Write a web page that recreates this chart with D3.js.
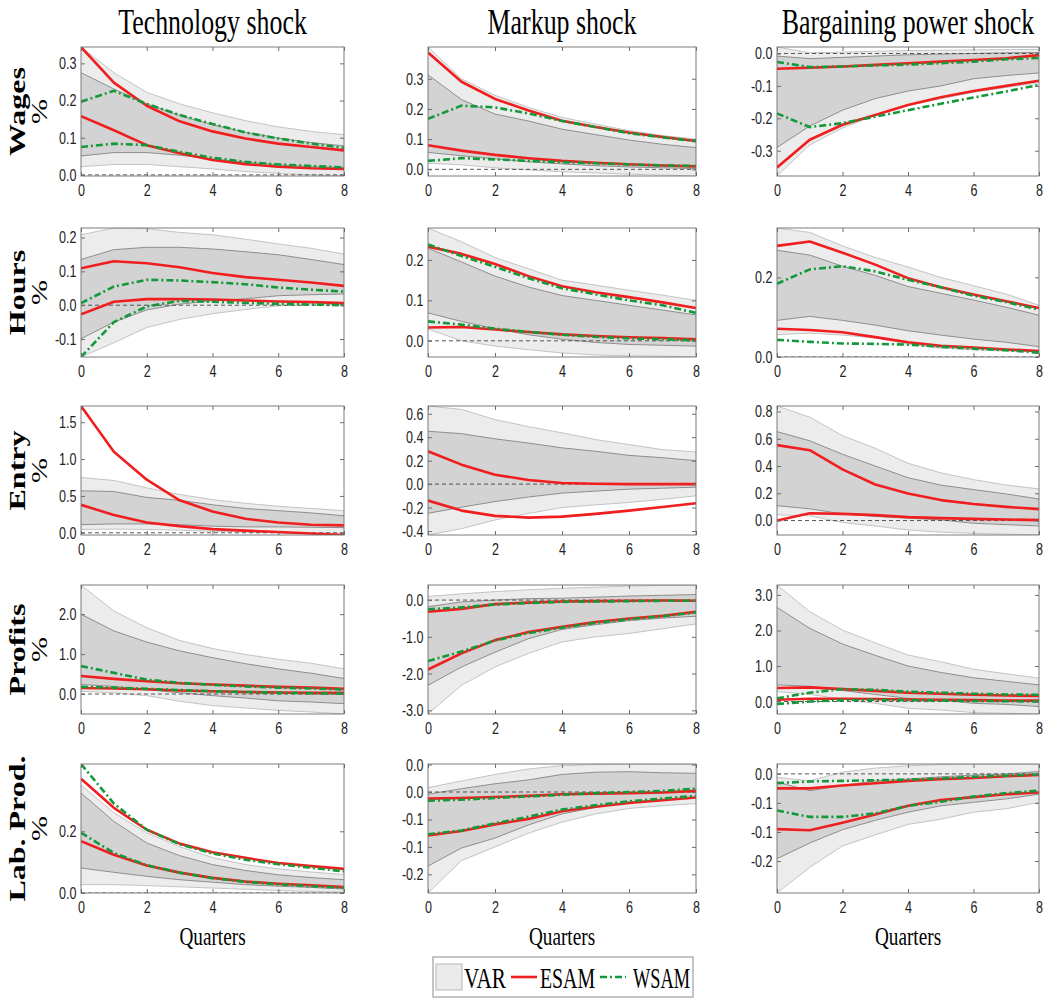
<!DOCTYPE html>
<html>
<head>
<meta charset="utf-8">
<script src="https://cdn.jsdelivr.net/npm/d3@7"></script>
<style>
body { margin: 0; background: #fff; }
</style>
</head>
<body>
<div id="fig"></div>
<script>
var width = 1053;
var height = 999;

// ---- data ----
var shocks = ["Technology shock", "Markup shock", "Bargaining power shock"];
var variables = ["Wages", "Hours", "Entry", "Profits", "Lab. Prod."];
var quarters = [0, 1, 2, 3, 4, 5, 6, 7, 8];
var xTicks = [0, 2, 4, 6, 8];

// wages
var wagesTech = {
  outerHi: [0.344,0.275,0.222,0.191,0.167,0.146,0.129,0.117,0.108],
  innerHi: [0.275,0.231,0.191,0.160,0.135,0.115,0.099,0.087,0.078],
  innerLo: [0.051,0.060,0.060,0.053,0.043,0.034,0.027,0.022,0.020],
  outerLo: [0.022,0.028,0.028,0.022,0.016,0.009,0.004,0.000,-0.003],
  esam: [[0.344,0.248,0.186,0.144,0.117,0.098,0.084,0.075,0.066],
         [0.158,0.120,0.080,0.058,0.040,0.029,0.022,0.018,0.016]],
  wsam: [[0.197,0.226,0.191,0.161,0.137,0.114,0.098,0.084,0.073],
         [0.075,0.084,0.080,0.062,0.046,0.035,0.028,0.024,0.020]]
};
var wagesMarkup = {
  outerHi: [0.405,0.300,0.245,0.205,0.172,0.150,0.128,0.112,0.100],
  innerHi: [0.313,0.231,0.183,0.160,0.133,0.115,0.097,0.083,0.072],
  innerLo: [0.056,0.045,0.035,0.025,0.018,0.012,0.008,0.005,0.003],
  outerLo: [0.020,0.015,0.005,-0.002,-0.008,-0.012,-0.016,-0.019,-0.022],
  esam: [[0.387,0.290,0.233,0.195,0.161,0.140,0.122,0.107,0.094],
         [0.080,0.062,0.048,0.037,0.028,0.022,0.017,0.013,0.010]],
  wsam: [[0.167,0.211,0.205,0.185,0.160,0.140,0.120,0.106,0.093],
         [0.028,0.037,0.033,0.028,0.024,0.020,0.016,0.013,0.011]]
};
var wagesBargain = {
  outerHi: [0.020,0.002,0.004,0.007,0.009,0.010,0.011,0.012,0.012],
  innerHi: [-0.008,-0.016,-0.012,-0.008,-0.004,-0.002,0.000,0.002,0.003],
  innerLo: [-0.290,-0.224,-0.175,-0.139,-0.116,-0.100,-0.078,-0.068,-0.060],
  outerLo: [-0.378,-0.282,-0.230,-0.190,-0.160,-0.140,-0.120,-0.105,-0.090],
  esam: [[-0.047,-0.044,-0.040,-0.035,-0.030,-0.025,-0.020,-0.015,-0.005],
         [-0.352,-0.266,-0.220,-0.190,-0.159,-0.135,-0.116,-0.100,-0.084]],
  wsam: [[-0.026,-0.042,-0.040,-0.037,-0.034,-0.030,-0.025,-0.018,-0.014],
         [-0.185,-0.227,-0.215,-0.195,-0.175,-0.155,-0.136,-0.117,-0.097]]
};

// hours
var hoursTech = {
  outerHi: [0.208,0.228,0.226,0.215,0.208,0.195,0.181,0.168,0.151],
  innerHi: [0.135,0.164,0.171,0.171,0.166,0.158,0.149,0.135,0.120],
  innerLo: [-0.099,-0.050,-0.014,0.003,0.013,0.019,0.028,0.031,0.033],
  outerLo: [-0.153,-0.111,-0.066,-0.042,-0.025,-0.013,-0.002,0.001,0.002],
  esam: [[0.109,0.130,0.124,0.112,0.095,0.083,0.075,0.067,0.057],
         [-0.027,0.010,0.018,0.018,0.017,0.014,0.011,0.009,0.006]],
  wsam: [[0.006,0.055,0.075,0.073,0.068,0.062,0.052,0.046,0.040],
         [-0.153,-0.050,-0.004,0.013,0.010,0.007,0.004,0.002,0.000]]
};
var hoursMarkup = {
  outerHi: [0.279,0.245,0.206,0.178,0.150,0.138,0.125,0.113,0.100],
  innerHi: [0.229,0.195,0.160,0.133,0.112,0.100,0.088,0.076,0.064],
  innerLo: [0.069,0.048,0.030,0.015,0.004,-0.004,-0.009,-0.011,-0.013],
  outerLo: [0.029,0.000,-0.013,-0.022,-0.030,-0.035,-0.037,-0.038,-0.040],
  esam: [[0.233,0.215,0.190,0.160,0.135,0.120,0.108,0.095,0.081],
         [0.033,0.034,0.028,0.022,0.016,0.012,0.009,0.007,0.004]],
  wsam: [[0.238,0.210,0.183,0.155,0.130,0.115,0.100,0.088,0.069],
         [0.048,0.040,0.030,0.022,0.015,0.010,0.006,0.004,0.001]]
};
var hoursBargain = {
  outerHi: [0.324,0.313,0.279,0.250,0.226,0.200,0.179,0.158,0.130],
  innerHi: [0.268,0.256,0.228,0.205,0.177,0.160,0.143,0.125,0.105],
  innerLo: [0.092,0.102,0.092,0.080,0.066,0.055,0.045,0.037,0.026],
  outerLo: [0.056,0.060,0.055,0.048,0.032,0.022,0.018,0.015,0.013],
  esam: [[0.279,0.290,0.262,0.232,0.198,0.175,0.157,0.140,0.123],
         [0.071,0.068,0.062,0.050,0.037,0.028,0.024,0.019,0.015]],
  wsam: [[0.184,0.220,0.228,0.215,0.194,0.175,0.154,0.138,0.119],
         [0.043,0.038,0.034,0.033,0.031,0.026,0.021,0.017,0.011]]
};

// entry (no WSAM)
var entryTech = {
  outerHi: [0.75,0.71,0.61,0.52,0.45,0.40,0.36,0.33,0.30],
  innerHi: [0.57,0.56,0.48,0.44,0.38,0.33,0.30,0.27,0.23],
  innerLo: [0.11,0.12,0.12,0.11,0.09,0.08,0.08,0.075,0.07],
  outerLo: [0.045,0.05,0.045,0.035,0.02,0.01,0.0,-0.01,-0.02],
  esam: [[1.72,1.10,0.72,0.44,0.29,0.19,0.14,0.11,0.10],
         [0.38,0.24,0.14,0.09,0.05,0.03,0.01,-0.01,-0.03]],
  wsam: []
};
var entryMarkup = {
  outerHi: [0.666,0.637,0.55,0.49,0.437,0.38,0.337,0.294,0.274],
  innerHi: [0.451,0.43,0.386,0.35,0.309,0.28,0.245,0.225,0.20],
  innerLo: [-0.249,-0.197,-0.149,-0.11,-0.077,-0.06,-0.043,-0.035,-0.026],
  outerLo: [-0.434,-0.38,-0.306,-0.25,-0.20,-0.177,-0.157,-0.13,-0.10],
  esam: [[0.28,0.166,0.08,0.035,0.009,0.003,0.0,0.0,0.0],
         [-0.14,-0.226,-0.271,-0.286,-0.277,-0.254,-0.226,-0.195,-0.163]],
  wsam: []
};
var entryBargain = {
  outerHi: [0.84,0.758,0.622,0.53,0.42,0.35,0.30,0.26,0.232],
  innerHi: [0.652,0.585,0.486,0.40,0.314,0.26,0.227,0.195,0.158],
  innerLo: [0.109,0.086,0.049,0.03,0.017,0.005,-0.02,-0.03,-0.04],
  outerLo: [0.042,0.035,-0.015,-0.04,-0.069,-0.085,-0.094,-0.10,-0.106],
  esam: [[0.553,0.516,0.375,0.264,0.198,0.15,0.121,0.10,0.084],
         [0.0,0.054,0.049,0.04,0.025,0.018,0.012,0.008,0.003]],
  wsam: []
};

// profits
var profitsTech = {
  outerHi: [2.73,2.08,1.66,1.34,1.14,0.99,0.87,0.77,0.63],
  innerHi: [2.0,1.58,1.30,1.08,0.91,0.76,0.63,0.52,0.39],
  innerLo: [0.24,0.19,0.11,0.03,-0.04,-0.10,-0.17,-0.20,-0.24],
  outerLo: [0.07,0.03,-0.04,-0.18,-0.29,-0.35,-0.41,-0.45,-0.50],
  esam: [[0.45,0.38,0.32,0.27,0.24,0.21,0.18,0.16,0.13],
         [0.15,0.14,0.12,0.09,0.07,0.05,0.04,0.03,0.03]],
  wsam: [[0.70,0.53,0.36,0.28,0.23,0.19,0.16,0.14,0.11],
         [0.18,0.16,0.13,0.10,0.07,0.05,0.03,0.02,0.01]]
};
var profitsMarkup = {
  outerHi: [0.10,0.17,0.23,0.28,0.32,0.35,0.38,0.40,0.41],
  innerHi: [-0.18,-0.05,0.0,0.04,0.05,0.08,0.11,0.13,0.15],
  innerLo: [-2.32,-1.82,-1.42,-1.05,-0.80,-0.67,-0.56,-0.49,-0.44],
  outerLo: [-3.10,-2.32,-1.82,-1.45,-1.14,-1.00,-0.91,-0.78,-0.65],
  esam: [[-0.32,-0.24,-0.11,-0.07,-0.04,-0.03,-0.02,-0.01,-0.02],
         [-1.89,-1.45,-1.09,-0.87,-0.73,-0.60,-0.50,-0.43,-0.32]],
  wsam: [[-0.25,-0.20,-0.12,-0.08,-0.05,-0.04,-0.03,-0.02,-0.02],
         [-1.66,-1.40,-1.10,-0.90,-0.75,-0.62,-0.52,-0.44,-0.34]]
};
var profitsBargain = {
  outerHi: [3.28,2.53,2.01,1.65,1.31,1.12,0.91,0.78,0.66],
  innerHi: [2.65,2.06,1.62,1.30,1.00,0.82,0.67,0.57,0.47],
  innerLo: [0.47,0.43,0.31,0.20,0.09,0.04,-0.05,-0.08,-0.14],
  outerLo: [0.28,0.20,0.07,-0.05,-0.19,-0.24,-0.31,-0.33,-0.35],
  esam: [[0.38,0.40,0.35,0.30,0.25,0.22,0.19,0.17,0.16],
         [0.05,0.08,0.08,0.07,0.06,0.05,0.04,0.03,0.03]],
  wsam: [[0.09,0.25,0.35,0.33,0.28,0.25,0.22,0.20,0.19],
         [-0.07,0.00,0.04,0.05,0.04,0.03,0.02,0.01,0.00]]
};

// labour productivity
var prodTech = {
  outerHi: [0.35,0.26,0.195,0.15,0.115,0.092,0.078,0.068,0.060],
  innerHi: [0.324,0.232,0.162,0.121,0.092,0.073,0.059,0.050,0.043],
  innerLo: [0.081,0.067,0.054,0.043,0.035,0.027,0.022,0.018,0.013],
  outerLo: [0.027,0.027,0.024,0.020,0.016,0.012,0.008,0.005,0.003],
  esam: [[0.370,0.276,0.205,0.160,0.132,0.114,0.097,0.087,0.078],
         [0.168,0.124,0.089,0.066,0.049,0.037,0.030,0.025,0.019]],
  wsam: [[0.418,0.290,0.205,0.158,0.128,0.108,0.093,0.082,0.070],
         [0.195,0.130,0.090,0.066,0.048,0.036,0.028,0.022,0.017]]
};
var prodMarkup = {
  outerHi: [0.008,0.020,0.032,0.042,0.048,0.050,0.051,0.051,0.051],
  innerHi: [-0.004,0.006,0.015,0.022,0.032,0.036,0.037,0.035,0.034],
  innerLo: [-0.135,-0.102,-0.084,-0.060,-0.040,-0.028,-0.018,-0.013,-0.010],
  outerLo: [-0.184,-0.125,-0.100,-0.075,-0.055,-0.040,-0.030,-0.025,-0.021],
  esam: [[-0.012,-0.011,-0.009,-0.007,-0.004,-0.003,-0.002,-0.001,0.002],
         [-0.079,-0.071,-0.059,-0.049,-0.035,-0.027,-0.020,-0.015,-0.010]],
  wsam: [[-0.016,-0.014,-0.011,-0.008,-0.005,-0.002,0.000,0.002,0.006],
         [-0.077,-0.070,-0.057,-0.045,-0.032,-0.024,-0.017,-0.012,-0.007]]
};
var prodBargain = {
  outerHi: [-0.006,-0.012,0.003,0.010,0.014,0.016,0.017,0.017,0.017],
  innerHi: [-0.014,-0.029,-0.020,-0.012,-0.009,-0.005,-0.002,0.000,0.004],
  innerLo: [-0.146,-0.119,-0.096,-0.080,-0.066,-0.055,-0.049,-0.043,-0.035],
  outerLo: [-0.205,-0.161,-0.124,-0.105,-0.087,-0.078,-0.066,-0.060,-0.049],
  esam: [[-0.025,-0.025,-0.020,-0.016,-0.012,-0.009,-0.007,-0.004,-0.002],
         [-0.095,-0.097,-0.084,-0.070,-0.055,-0.045,-0.040,-0.035,-0.032]],
  wsam: [[-0.016,-0.013,-0.012,-0.011,-0.010,-0.008,-0.005,-0.003,-0.001],
         [-0.063,-0.074,-0.074,-0.068,-0.055,-0.048,-0.039,-0.033,-0.029]]
};

// y ticks per row, one array per column
var wagesTicks = [[0,0.1,0.2,0.3],[0,0.1,0.2,0.3],[-0.3,-0.2,-0.1,0]];
var hoursTicks = [[-0.1,0,0.1,0.2],[0,0.1,0.2],[0,0.2]];
var entryTicks = [[0,0.5,1,1.5],[-0.4,-0.2,0,0.2,0.4,0.6],[0,0.2,0.4,0.6,0.8]];
var profitsTicks = [[0,1,2],[-3,-2,-1,0],[0,1,2,3]];
var prodTicks = [[0,0.2],[-0.15,-0.1,-0.05,0,0.05],[-0.15,-0.1,-0.05,0]];
// the original prints these rounded ticks as below
var prodMarkupLabels = ["-0.2","-0.1","-0.1","0.0","0.0"];
var prodBargainLabels = ["-0.2","-0.1","-0.1","0.0"];

var panels = [
  [wagesTech, wagesMarkup, wagesBargain],
  [hoursTech, hoursMarkup, hoursBargain],
  [entryTech, entryMarkup, entryBargain],
  [profitsTech, profitsMarkup, profitsBargain],
  [prodTech, prodMarkup, prodBargain]
];
var ticksByRow = [wagesTicks, hoursTicks, entryTicks, profitsTicks, prodTicks];

// ---- layout ----
var colX = [81, 428, 777];
var colW = [263, 268, 262];
var rowY = [47, 228, 406, 585, 764];
var rowH = 129;
var squeeze = 0.74;   // the figure's text is narrow
var serif = "'Liberation Serif', 'DejaVu Serif', serif";
var sans = "'Liberation Sans', Arial, sans-serif";

var esamColor = "#f01e1e";
var wsamColor = "#13993a";

var svg = d3.select("#fig")
            .append("svg")
            .attr("width", width)
            .attr("height", height);

function narrowText(g, x, y, txt, size, family, anchor, weight) {
  return g.append("text")
          .attr("transform", "translate(" + x + "," + y + ") scale(" + squeeze + ",1)")
          .attr("text-anchor", anchor)
          .style("font-family", family)
          .style("font-size", size + "px")
          .style("font-weight", weight || "normal")
          .attr("fill", "#000")
          .text(txt);
}

// column titles
shocks.forEach(function(s, c){
  narrowText(svg, colX[c] + colW[c]/2, 34, s, 35, serif, "middle");
});

// row labels: variable name, then "%" to its right
variables.forEach(function(v, r){
  var cy = rowY[r] + rowH/2;
  svg.append("text")
     .attr("transform", "translate(25," + cy + ") rotate(-90) scale(1,0.74)")
     .attr("text-anchor", "middle")
     .style("font-family", serif)
     .style("font-size", "32px")
     .style("font-weight", "bold")
     .text(v);
  svg.append("text")
     .attr("transform", "translate(47," + cy + ") rotate(-90) scale(1,0.78)")
     .attr("text-anchor", "middle")
     .style("font-family", serif)
     .style("font-size", "30px")
     .text("%");
});

var fmt = function(d){ return d.toFixed(1); };

panels.forEach(function(row, r){
  row.forEach(function(p, c){
    var w = colW[c], h = rowH;
    var g = svg.append("g").attr("transform", "translate(" + colX[c] + "," + rowY[r] + ")");

    var x = d3.scaleLinear().domain([0, 8]).range([0, w]);
    var all = [0].concat(p.outerHi, p.outerLo, p.innerHi, p.innerLo);
    p.esam.forEach(function(s){ all = all.concat(s); });
    p.wsam.forEach(function(s){ all = all.concat(s); });
    var y = d3.scaleLinear().domain(d3.extent(all)).range([h, 0]);

    var clipId = "clip" + r + "_" + c;
    g.append("clipPath").attr("id", clipId)
     .append("rect").attr("width", w).attr("height", h);
    var plot = g.append("g").attr("clip-path", "url(#" + clipId + ")");

    var band = function(lo, hi){
      return d3.area()
               .x(function(d, i){ return x(quarters[i]); })
               .y0(function(d, i){ return y(lo[i]); })
               .y1(function(d, i){ return y(hi[i]); })(quarters);
    };
    var line = d3.line()
                 .x(function(d, i){ return x(quarters[i]); })
                 .y(function(d){ return y(d); });

    plot.append("path").attr("d", band(p.outerLo, p.outerHi))
        .attr("fill", "#ececec").attr("stroke", "none");
    plot.append("path").attr("d", band(p.innerLo, p.innerHi))
        .attr("fill", "#d3d3d3").attr("stroke", "none");
    [p.outerHi, p.outerLo].forEach(function(s){
      plot.append("path").attr("d", line(s)).attr("fill", "none")
          .attr("stroke", "#bdbdbd").attr("stroke-width", 0.9);
    });
    [p.innerHi, p.innerLo].forEach(function(s){
      plot.append("path").attr("d", line(s)).attr("fill", "none")
          .attr("stroke", "#858585").attr("stroke-width", 0.9);
    });

    // zero line
    plot.append("line")
        .attr("x1", 0).attr("x2", w)
        .attr("y1", y(0)).attr("y2", y(0))
        .attr("stroke", "#444").attr("stroke-width", 0.9)
        .attr("stroke-dasharray", "4,3");

    p.esam.forEach(function(s){
      plot.append("path").attr("d", line(s)).attr("fill", "none")
          .attr("stroke", esamColor).attr("stroke-width", 2.6)
          .attr("stroke-linejoin", "round");
    });
    p.wsam.forEach(function(s){
      plot.append("path").attr("d", line(s)).attr("fill", "none")
          .attr("stroke", wsamColor).attr("stroke-width", 2.6)
          .attr("stroke-dasharray", "7,3,2,3");
    });

    // axes, ticks pointing inward on all four sides
    var yt = ticksByRow[r][c];
    var labels = fmt;
    if (r === 4 && c === 1) labels = function(d, i){ return prodMarkupLabels[i]; };
    if (r === 4 && c === 2) labels = function(d, i){ return prodBargainLabels[i]; };

    var left = g.append("g")
                .call(d3.axisLeft(y).tickValues(yt).tickFormat(labels)
                        .tickSizeInner(-4).tickSizeOuter(0).tickPadding(5));
    g.append("g").attr("transform", "translate(" + w + ",0)")
     .call(d3.axisRight(y).tickValues(yt).tickFormat("").tickSizeInner(-4).tickSizeOuter(0));
    g.append("g")
     .call(d3.axisTop(x).tickValues(xTicks).tickFormat("").tickSizeInner(-4).tickSizeOuter(0));
    var bottom = g.append("g").attr("transform", "translate(0," + h + ")")
                  .call(d3.axisBottom(x).tickValues(xTicks).tickFormat(d3.format("d"))
                          .tickSizeInner(-4).tickSizeOuter(0).tickPadding(8));

    g.selectAll(".domain").remove();
    g.selectAll(".tick line").attr("stroke", "#6e6e6e");
    [left, bottom].forEach(function(a){
      a.selectAll("text")
       .style("font-family", sans)
       .style("font-size", "17px")
       .attr("fill", "#222");
    });
    left.selectAll("text").attr("transform", "scale(" + squeeze + ",1)").attr("x", -6);
    bottom.selectAll("text").attr("transform", "scale(" + squeeze + ",1)");

    g.append("rect").attr("width", w).attr("height", h)
     .attr("fill", "none").attr("stroke", "#6e6e6e").attr("stroke-width", 0.9);

    if (r === panels.length - 1) {
      narrowText(g, w/2, h + 52, "Quarters", 26, serif, "middle");
    }
  });
});

// legend
var leg = svg.append("g").attr("transform", "translate(433,957)");
leg.append("rect").attr("width", 260).attr("height", 40)
   .attr("fill", "#fff").attr("stroke", "#8c8c8c").attr("stroke-width", 1);
leg.append("rect").attr("x", 3).attr("y", 7).attr("width", 26).attr("height", 26)
   .attr("fill", "#ebebeb").attr("stroke", "#b5b5b5");
function legText(x, t, len) {
  leg.append("text").attr("x", x).attr("y", 31)
     .attr("textLength", len).attr("lengthAdjust", "spacingAndGlyphs")
     .style("font-family", serif).style("font-size", "30px")
     .text(t);
}
legText(31, "VAR", 42);
leg.append("line").attr("x1", 78).attr("x2", 104).attr("y1", 20).attr("y2", 20)
   .attr("stroke", esamColor).attr("stroke-width", 2.6);
legText(107, "ESAM", 55);
leg.append("line").attr("x1", 167).attr("x2", 193).attr("y1", 20).attr("y2", 20)
   .attr("stroke", wsamColor).attr("stroke-width", 2.6).attr("stroke-dasharray", "7,3,2,3");
legText(200, "WSAM", 57);
</script>
</body>
</html>
